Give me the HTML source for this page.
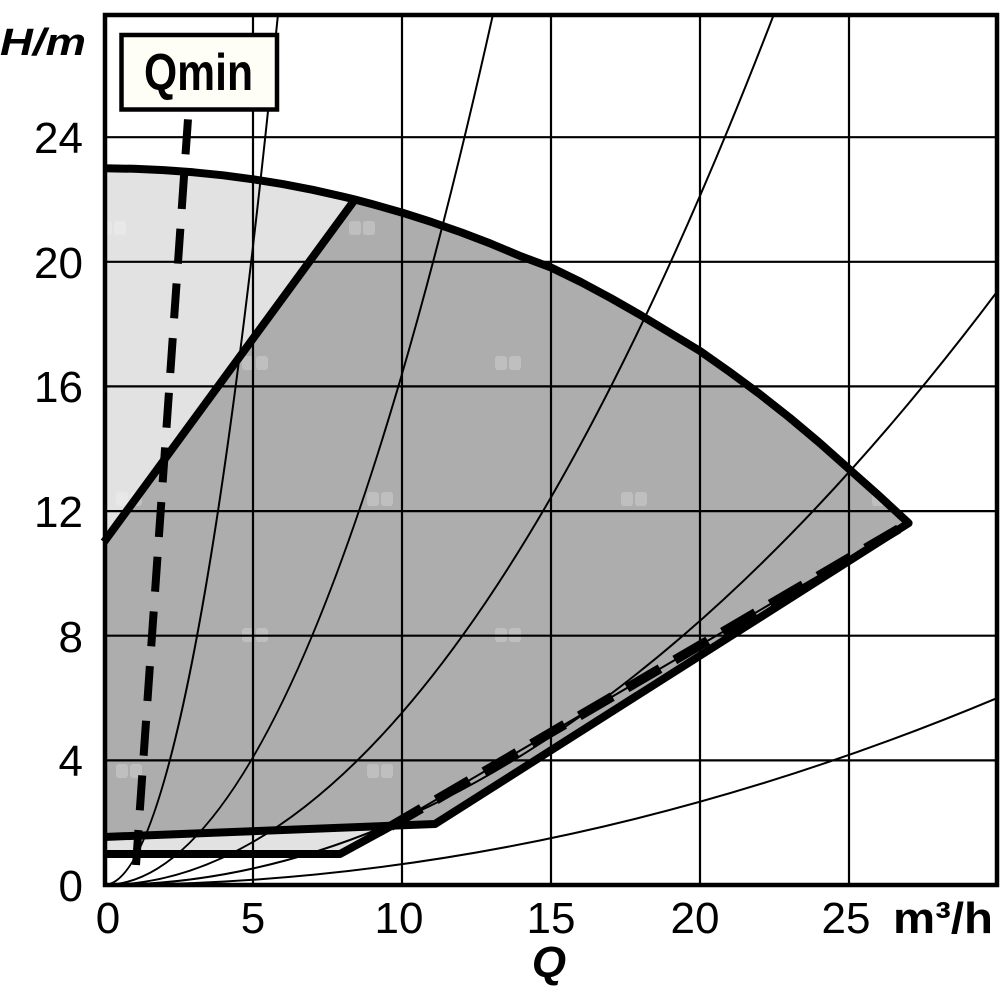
<!DOCTYPE html>
<html><head><meta charset="utf-8"><style>
html,body{margin:0;padding:0;background:#fff;}
svg{display:block;}
text{font-family:"Liberation Sans",sans-serif;fill:#000;}
</style></head><body>
<svg width="1000" height="1000" viewBox="0 0 1000 1000" xmlns="http://www.w3.org/2000/svg">
<defs>
<clipPath id="pc"><rect x="104" y="15" width="893" height="870"/></clipPath>
</defs>
<rect x="0" y="0" width="1000" height="1000" fill="#fff"/>

<!-- fills -->
<polygon fill="#e2e2e2" points="104,168.3 133.8,168.8 163.6,170.1 193.4,172.3 223.2,175.3 253,179.3 282.8,184.1 312.6,189.8 342.4,196.5 354.9,199.5 104,542"/>
<polygon fill="#e2e2e2" points="104,837 390.6,826.4 340,854 104,854"/>
<polygon fill="#adadad" points="104,542 354.9,199.5 372.2,204.1 402,212.6 431.8,222.1 461.6,232.5 491.4,243.9 521.2,256.4 551,267.5 580.8,282 610.6,298 640.4,315 670.2,333 700,351 729.8,372 759.6,394 789.4,417.5 819.2,442.5 849,469 878.8,495.5 908.6,523.1 435,824 104,837"/>

<!-- watermark squares -->
<g fill="#fff" fill-opacity="0.22">
<rect x="100" y="221" width="12" height="14" rx="3"/><rect x="114" y="221" width="12" height="14" rx="3"/>
<rect x="349" y="221" width="12" height="14" rx="3"/><rect x="363" y="221" width="12" height="14" rx="3"/>
<rect x="242" y="356" width="12" height="14" rx="3"/><rect x="256" y="356" width="12" height="14" rx="3"/>
<rect x="495" y="356" width="12" height="14" rx="3"/><rect x="509" y="356" width="12" height="14" rx="3"/>
<rect x="116" y="492" width="12" height="14" rx="3"/><rect x="130" y="492" width="12" height="14" rx="3"/>
<rect x="367" y="492" width="12" height="14" rx="3"/><rect x="381" y="492" width="12" height="14" rx="3"/>
<rect x="621" y="492" width="12" height="14" rx="3"/><rect x="635" y="492" width="12" height="14" rx="3"/>
<rect x="872" y="492" width="12" height="14" rx="3"/><rect x="886" y="492" width="12" height="14" rx="3"/>
<rect x="242" y="628" width="12" height="14" rx="3"/><rect x="256" y="628" width="12" height="14" rx="3"/>
<rect x="495" y="628" width="12" height="14" rx="3"/><rect x="509" y="628" width="12" height="14" rx="3"/>
<rect x="116" y="764" width="12" height="14" rx="3"/><rect x="130" y="764" width="12" height="14" rx="3"/>
<rect x="367" y="764" width="12" height="14" rx="3"/><rect x="381" y="764" width="12" height="14" rx="3"/>
</g>

<!-- grid -->
<g stroke="#000" stroke-width="2.2">
<line x1="253" y1="15" x2="253" y2="885"/>
<line x1="402" y1="15" x2="402" y2="885"/>
<line x1="551" y1="15" x2="551" y2="885"/>
<line x1="700" y1="15" x2="700" y2="885"/>
<line x1="849" y1="15" x2="849" y2="885"/>
<line x1="104" y1="760.4" x2="997" y2="760.4"/>
<line x1="104" y1="635.7" x2="997" y2="635.7"/>
<line x1="104" y1="511.1" x2="997" y2="511.1"/>
<line x1="104" y1="386.4" x2="997" y2="386.4"/>
<line x1="104" y1="261.8" x2="997" y2="261.8"/>
<line x1="104" y1="137.2" x2="997" y2="137.2"/>
</g>

<!-- system curves -->
<g clip-path="url(#pc)" fill="none" stroke="#000" stroke-width="2">
<path d="M104,885 Q191.8,885 279.7,-3"/>
<path d="M104,885 Q300.4,885 496.8,-2.8"/>
<path d="M104,885 Q442.4,885 780.8,-3.7"/>
<path d="M104,885 Q565.9,885 1027.8,250.2"/>
<path d="M104,885 Q565.9,885 1027.8,685"/>
</g>

<!-- thin diagonal to tip -->
<line x1="390.6" y1="826.4" x2="908.6" y2="523.1" stroke="#000" stroke-width="2"/>

<!-- thick boundaries -->
<g fill="none" stroke="#000" stroke-width="8" stroke-linejoin="round">
<polyline points="104,168.3 133.8,168.8 163.6,170.1 193.4,172.3 223.2,175.3 253,179.3 282.8,184.1 312.6,189.8 342.4,196.5 354.9,199.5 372.2,204.1 402,212.6 431.8,222.1 461.6,232.5 491.4,243.9 521.2,256.4 551,267.5 580.8,282 610.6,298 640.4,315 670.2,333 700,351 729.8,372 759.6,394 789.4,417.5 819.2,442.5 849,469 878.8,495.5 908.6,523.1 435,824 104,837"/>
<polyline points="104,542 354.9,199.5"/>
<polyline points="104,854 340,854 390.6,826.4"/>
</g>

<!-- dashed limit line -->
<line x1="390.6" y1="826.4" x2="908.6" y2="523.1" stroke="#000" stroke-width="9.5" stroke-dasharray="38.2 17.1" stroke-dashoffset="2.5"/>

<!-- Qmin dashed line -->
<line x1="136" y1="865" x2="188" y2="119" stroke="#000" stroke-width="8" stroke-dasharray="35 19.8"/>

<!-- Qmin box -->
<rect x="121.5" y="35" width="155.5" height="74.5" fill="#fffef6" stroke="#000" stroke-width="4.5"/>
<text x="144" y="90" font-size="52" font-weight="bold" textLength="109" lengthAdjust="spacingAndGlyphs">Qmin</text>

<!-- frame -->
<rect x="105" y="15" width="892" height="870" fill="none" stroke="#000" stroke-width="4.5"/>

<!-- y labels -->
<g font-size="44" text-anchor="end">
<text x="83" y="153">24</text>
<text x="83" y="278">20</text>
<text x="83" y="402">16</text>
<text x="83" y="527">12</text>
<text x="83" y="652">8</text>
<text x="83" y="776">4</text>
<text x="83" y="901">0</text>
</g>
<!-- x labels -->
<g font-size="44" text-anchor="middle">
<text x="108" y="933">0</text>
<text x="253" y="933">5</text>
<text x="399" y="933">10</text>
<text x="551" y="933">15</text>
<text x="695" y="933">20</text>
<text x="846" y="933">25</text>
</g>
<text x="893" y="933" font-size="44" font-weight="bold" textLength="100" lengthAdjust="spacingAndGlyphs">m³/h</text>
<text x="549" y="977" font-size="44" font-weight="bold" font-style="italic" text-anchor="middle">Q</text>
<text x="0" y="55" font-size="38" font-weight="bold" font-style="italic" textLength="86" lengthAdjust="spacingAndGlyphs">H/m</text>
</svg>
</body></html>
